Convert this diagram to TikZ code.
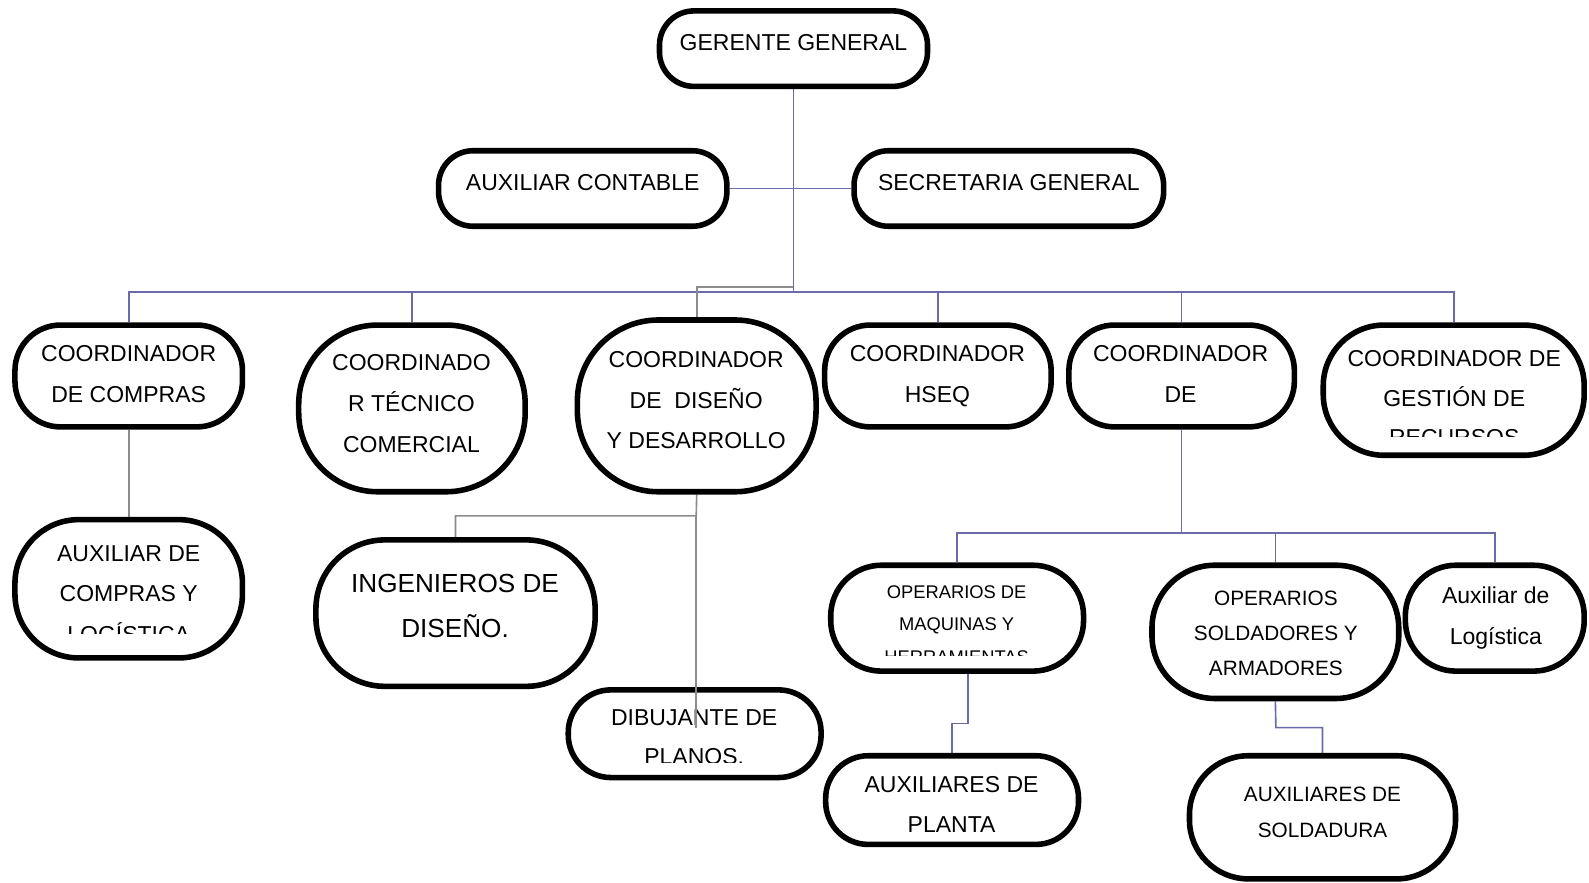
\documentclass[tikz,border=0pt]{standalone}
\usepackage{fontspec}
\setmainfont{Liberation Sans}
\usetikzlibrary{backgrounds}
\definecolor{conblue}{HTML}{6B6BA8}
\definecolor{congrey}{HTML}{8C8C8C}
\tikzset{
 orgbox/.style={draw=black, fill=white, line width=5.5pt, rounded corners=#1, inner sep=0pt},
 orgbox/.default=40pt,
 txt/.style={align=center, anchor=base, inner sep=0pt, font=\fontsize{22.7}{40.5}\selectfont},
 bl/.style={draw=conblue, line width=1.6pt},
 gl/.style={draw=congrey, line width=1.6pt},
}
\begin{document}
\begin{tikzpicture}[x=1pt,y=-1pt]
\useasboundingbox (0,0) rectangle (1568,871);
% boxes
\node[orgbox=34pt, minimum width=264.5pt, minimum height=74.5pt] (gg) at (783,48) {};
\node[orgbox=34pt, minimum width=284.5pt, minimum height=74.5pt] (auxc) at (575,186) {};
\node[orgbox=34pt, minimum width=305.5pt, minimum height=74.5pt] (secr) at (995.5,186) {};
\node[orgbox=45pt, minimum width=224.5pt, minimum height=100.5pt] (comp) at (127,371) {};
\node[orgbox=78pt, minimum width=223.5pt, minimum height=164.5pt] (tec) at (406.5,403) {};
\node[orgbox=80pt, minimum width=235.5pt, minimum height=169.5pt] (dis) at (687.5,400.5) {};
\node[orgbox=45pt, minimum width=223.5pt, minimum height=100.5pt] (hseq) at (925.5,371) {};
\node[orgbox=45pt, minimum width=222.5pt, minimum height=100.5pt] (cde) at (1166,371) {};
\node[orgbox=60pt, minimum width=257.5pt, minimum height=128.5pt] (ges) at (1434.5,385) {};
\node[orgbox=63pt, minimum width=224.5pt, minimum height=136.5pt] (auxcomp) at (127,581) {};
\node[orgbox=68pt, minimum width=275.5pt, minimum height=144.5pt] (ing) at (449.5,605) {};
\node[orgbox=42pt, minimum width=249.5pt, minimum height=86.5pt] (dib) at (685.5,724) {};
\node[orgbox=50pt, minimum width=249.5pt, minimum height=104.5pt] (opm) at (944.5,610) {};
\node[orgbox=62pt, minimum width=243.5pt, minimum height=131.5pt] (ops) at (1258.5,623.5) {};
\node[orgbox=50pt, minimum width=176.5pt, minimum height=104.5pt] (auxl) at (1475,610) {};
\node[orgbox=42pt, minimum width=249.5pt, minimum height=87.5pt] (auxp) at (939.5,789.5) {};
\node[orgbox=58pt, minimum width=262.5pt, minimum height=121.5pt] (auxs) at (1305,806.5) {};
% coordinates
\coordinate (bus) at (783,288);
\coordinate (k1) at (783,283);
\coordinate (k2) at (687,509);
\coordinate (k3) at (1166,526);
\coordinate (k4) at (955,714);
\coordinate (k5) at (1259,718);
\coordinate (dibend) at (687,718);
% connectors
\begin{scope}[on background layer]
\fill[white] (0,0) rectangle (1568,871);
\draw[bl] (gg.south) -- (bus);
\draw[bl] (auxc.east) -- (secr.west);
\draw[bl] (bus) -| (comp.north);
\draw[bl] (bus) -| (tec.north);
\draw[bl] (bus) -| (hseq.north);
\draw[bl] (bus) -| (cde.north);
\draw[bl] (bus) -| (ges.north);
\draw[gl] (k1) -| (dis.north);
\draw[gl] (comp.south) -- (auxcomp.north);
\draw[gl] (dis.south) -- (k2) -| (ing.north);
\draw[bl] (cde.south) -- (k3);
\draw[bl] (k3) -| (opm.north);
\draw[bl] (k3) -| (ops.north);
\draw[bl] (k3) -| (auxl.north);
\draw[bl] ([xshift=10.5pt]opm.south) -- (k4) -| (auxp.north);
\draw[bl] (ops.south) -- (k5) -| (auxs.north);
\end{scope}
% texts (anchor = baseline of the last line)
\node[txt] (ggt) at (783,50) {GERENTE GENERAL};
\node[txt] (auxct) at (575,188) {AUXILIAR CONTABLE};
\node[txt] (secrt) at (995.5,188) {SECRETARIA GENERAL};
\node[txt] (compt) at (127,397) {COORDINADOR\\DE COMPRAS};
\node[txt] (tect) at (406,447) {COORDINADO\\R TÉCNICO\\COMERCIAL};
\node[txt, font=\fontsize{22.7}{40}\selectfont] (dist) at (687,443) {COORDINADOR\\DE\ \ DISEÑO\\Y DESARROLLO};
\node[txt] (hseqt) at (925,397) {COORDINADOR\\HSEQ};
\node[txt] (cdet) at (1165,397) {COORDINADOR\\DE};
\begin{scope}
\clip (1310,330) rectangle (1560,431);
\node[txt, font=\fontsize{22.7}{39}\selectfont] (gest) at (1435,440) {COORDINADOR DE\\GESTIÓN DE\\RECURSOS};
\end{scope}
\begin{scope}
\clip (20,520) rectangle (235,625);
\node[txt, font=\fontsize{22.7}{40}\selectfont] (auxcompt) at (127,634) {AUXILIAR DE\\COMPRAS Y\\LOGÍSTICA};
\end{scope}
\node[txt, font=\fontsize{25.8}{44}\selectfont] (ingt) at (449,629) {INGENIEROS DE\\DISEÑO.};
\begin{scope}
\clip (570,685) rectangle (805,752);
\node[txt, font=\fontsize{22.7}{38}\selectfont] (dibt) at (685,754) {DIBUJANTE DE\\PLANOS.};
\end{scope}
\begin{scope}
\clip (825,565) rectangle (1065,647);
\node[txt, font=\fontsize{18.1}{32}\selectfont] (opmt) at (944,654.5) {OPERARIOS DE\\MAQUINAS Y\\HERRAMIENTAS};
\end{scope}
\node[txt, font=\fontsize{20.5}{35}\selectfont] (opst) at (1259,667) {OPERARIOS\\SOLDADORES Y\\ARMADORES};
\node[txt, font=\fontsize{22.7}{40}\selectfont] (auxlt) at (1476,636) {Auxiliar de\\Logística};
\node[txt, font=\fontsize{22.7}{39}\selectfont] (auxpt) at (939,821) {AUXILIARES DE\\PLANTA};
\node[txt, font=\fontsize{20.5}{35}\selectfont] (auxst) at (1305,826) {AUXILIARES DE\\SOLDADURA};
% grey line crossing the drafting box
\draw[gl] (k2) -- (dibend);
\end{tikzpicture}
\end{document}
